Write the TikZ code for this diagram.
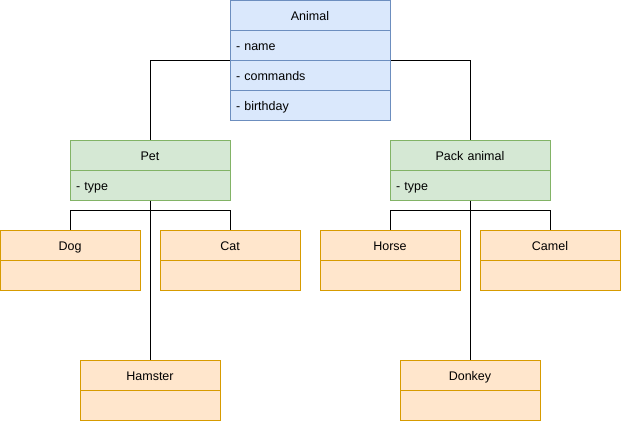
\documentclass[tikz,border=0pt]{standalone}
\usepackage{fontspec}
\setmainfont{Liberation Sans}
\definecolor{blueFill}{HTML}{DAE8FC}
\definecolor{blueLine}{HTML}{6C8EBF}
\definecolor{greenFill}{HTML}{D5E8D4}
\definecolor{greenLine}{HTML}{82B366}
\definecolor{orangeFill}{HTML}{FFE6CC}
\definecolor{orangeLine}{HTML}{D79B00}
\tikzset{
  cell/.style={rectangle,line width=1pt,minimum height=30pt,inner ysep=0pt,inner xsep=6pt,text height=10pt,text depth=0pt},
  wide/.style={cell,text width=148pt},
  narrow/.style={cell,text width=128pt},
  head/.style={align=center},
  attr/.style={align=left},
  animalbox/.style={wide,draw=blueLine,fill=blueFill},
  groupbox/.style={wide,draw=greenLine,fill=greenFill},
  kindbox/.style={narrow,draw=orangeLine,fill=orangeFill},
  link/.style={line width=1pt,black}
}
\begin{document}
\begin{tikzpicture}[x=1pt,y=-1pt,font=\fontsize{12.5}{14}\selectfont]
  \useasboundingbox (0,0) rectangle (621,421);
  \draw
    (310,15) node[animalbox,head] (animal){Animal}
    (310,45) node[animalbox,attr] (name){- name}
    (310,75) node[animalbox,attr] (commands){- commands}
    (310,105) node[animalbox,attr] (birthday){- birthday}
    (150,155) node[groupbox,head] (pet){Pet}
    (150,185) node[groupbox,attr] (pettype){- type}
    (470,155) node[groupbox,head] (pack){Pack animal}
    (470,185) node[groupbox,attr] (packtype){- type}
    (70,245) node[kindbox,head] (dog){Dog}
    (70,275) node[kindbox] (dogbody){}
    (230,245) node[kindbox,head] (cat){Cat}
    (230,275) node[kindbox] (catbody){}
    (150,375) node[kindbox,head] (hamster){Hamster}
    (150,405) node[kindbox] (hamsterbody){}
    (390,245) node[kindbox,head] (horse){Horse}
    (390,275) node[kindbox] (horsebody){}
    (550,245) node[kindbox,head] (camel){Camel}
    (550,275) node[kindbox] (camelbody){}
    (470,375) node[kindbox,head] (donkey){Donkey}
    (470,405) node[kindbox] (donkeybody){};
  % forks below the two groups
  \coordinate (petfork) at (150,210);
  \coordinate (packfork) at (470,210);
  \begin{scope}[link]
    \draw (name.south west) -| (pet.north);
    \draw (name.south east) -| (pack.north);
    \draw (pettype.south) -- (petfork) -| (dog.north);
    \draw (petfork) -| (cat.north);
    \draw (petfork) -- (hamster.north);
    \draw (packtype.south) -- (packfork) -| (horse.north);
    \draw (packfork) -| (camel.north);
    \draw (packfork) -- (donkey.north);
  \end{scope}
\end{tikzpicture}
\end{document}
